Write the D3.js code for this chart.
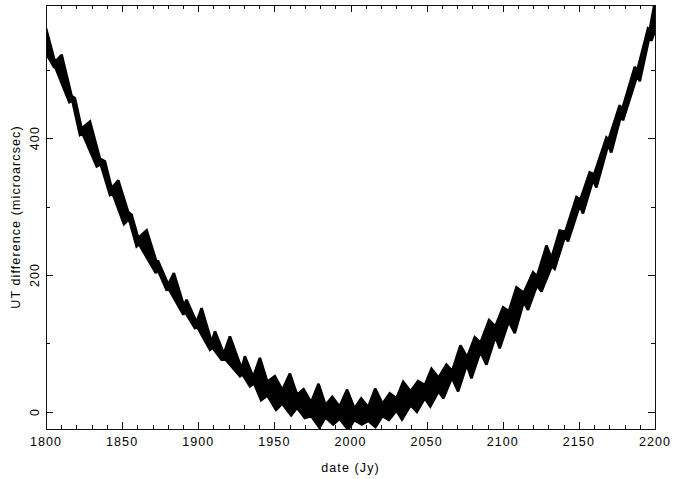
<!DOCTYPE html>
<html>
<head>
<meta charset="utf-8">
<script src="https://cdn.jsdelivr.net/npm/d3@7"></script>
<style>
  body { margin: 0; background: #fff; }
  svg { display: block; font-family: "Liberation Sans", Arial, sans-serif; }
</style>
</head>
<body>
<div id="chart"></div>
<script>
// upper edge of the band (date in Julian years, value in microarcsec)
const upperYears = [1800, 1805.9, 1810.3, 1816.8, 1819.0, 1823.4, 1828.9, 1835.4, 1838.7, 1843.1,
    1847.5, 1854.0, 1856.2, 1860.6, 1866.1, 1872.6, 1873.7, 1880.3, 1884.0, 1890.6,
    1892.3, 1898.9, 1902.2, 1908.8, 1911.0, 1916.8, 1920.8, 1928.5, 1930.6, 1936.1,
    1940.5, 1945.4, 1950.3, 1955.2, 1960.2, 1964.9, 1969.2, 1974.2, 1979.0, 1983.6,
    1988.0, 1992.8, 1997.8, 2002.6, 2007.0, 2011.6, 2016.2, 2021.0, 2025.8, 2030.2,
    2034.6, 2039.5, 2044.4, 2048.8, 2053.2, 2057.8, 2063.0, 2066.8, 2072.2, 2076.6,
    2081.6, 2085.4, 2091.0, 2095.2, 2100.2, 2104.0, 2109.0, 2113.8, 2119.9, 2122.5,
    2128.7, 2132.0, 2137.4, 2141.1, 2148.4, 2151.0, 2157.1, 2160.0, 2168.1, 2169.6,
    2176.8, 2178.3, 2186.7, 2188.4, 2195.4, 2196.5, 2200];
const upperVals = [560.5, 511, 521.6, 462, 458.3, 414, 424.3, 370, 365.9, 327,
    338.2, 292, 288.0, 254, 265.2, 219, 219.9, 186, 202.8, 155,
    163.9, 131, 151.7, 102, 117.7, 85, 110.4, 63, 81.2, 51,
    79, 44, 52, 32, 56, 25, 33, 14, 41, 10,
    22, 8, 32.5, 5, 19.5, 7, 34, 12, 27, 20,
    44, 30, 45, 39, 63, 50, 69, 60, 97, 80,
    109, 101, 134, 125, 153, 147, 182, 174, 204, 198,
    243, 225, 265, 263, 314, 310, 350, 347, 401, 398,
    448, 441, 504, 499, 560, 558, 600];

// lower edge of the band
const lowerYears = [1800, 1805.3, 1806.2, 1815.3, 1817.3, 1822.3, 1823.9, 1833.3, 1835.9, 1842.0,
    1843.6, 1851.2, 1854.5, 1859.5, 1861.1, 1872.2, 1873.1, 1879.2, 1880.8, 1890.2,
    1891.1, 1897.8, 1899.4, 1907.7, 1909.3, 1915.3, 1917.3, 1927.4, 1929.0, 1934.0,
    1936.6, 1941.3, 1945.4, 1951.1, 1955.2, 1961.0, 1964.9, 1970.0, 1974.2, 1979.6,
    1983.6, 1988.6, 1992.8, 1998.4, 2002.6, 2007.4, 2011.6, 2016.4, 2021.0, 2025.2,
    2030.2, 2033.8, 2039.5, 2043.6, 2048.8, 2052.4, 2057.8, 2061.0, 2066.6, 2070.7,
    2076.4, 2079.4, 2085.3, 2089.3, 2095.2, 2098.0, 2103.9, 2107.9, 2113.8, 2116.6,
    2122.5, 2125.4, 2132.2, 2134.1, 2140.9, 2142.9, 2150.6, 2152.7, 2159.3, 2161.5,
    2169.2, 2171.3, 2177.9, 2179.0, 2188.4, 2190.0, 2196.5, 2197.6, 2200];
const lowerVals = [524, 503.6, 503, 452.5, 455, 404.8, 407, 358.6, 362, 317.2,
    320, 274.4, 282, 241.8, 245, 202.8, 209, 178.5, 179, 142.0,
    147, 122.5, 124, 90.9, 94, 76.3, 78, 52.0, 55, 37.4,
    42, 17, 24, 3, 12, -5, 6, -9, -6, -23,
    -8, -18.5, -10, -26, -12, -18.5, -13, -22, -6, -12,
    2, -11, 10, 0, 20, 8, 30, 20, 50, 30,
    69, 49, 88, 69, 110, 93, 132, 115, 161, 149,
    185, 176, 213, 209, 257, 249, 302, 290, 339, 328,
    390, 379, 435, 426, 492, 483, 550, 542, 557];

const xLabelTicks = [1800, 1850, 1900, 1950, 2000, 2050, 2100, 2150, 2200];
const yLabelTicks = [0, 200, 400];
const yMinorTicks = [100, 300, 500];

const width = 673, height = 479;
const margin = { top: 5, right: 18, bottom: 50, left: 46 };
const x0 = margin.left, x1 = width - margin.right;
const y0 = height - margin.bottom, y1 = margin.top;

const svg = d3.select('#chart').append('svg')
    .attr('width', width)
    .attr('height', height);

const x = d3.scaleLinear().domain([1800, 2200]).range([x0, x1]);
const y = d3.scaleLinear().domain([-25, 594.5]).range([y0, y1]);

svg.append('clipPath').attr('id', 'plot-clip')
    .append('rect')
    .attr('x', x0).attr('y', y1)
    .attr('width', x1 - x0).attr('height', y0 - y1);

// band outline: along the upper edge, back along the lower edge
const upper = upperYears.map((t, i) => ({ t, v: upperVals[i] }));
const lower = lowerYears.map((t, i) => ({ t, v: lowerVals[i] }));
const outline = upper.concat(lower.slice().reverse());

const line = d3.line()
    .x(d => x(d.t))
    .y(d => y(d.v));

// the dense short-period wiggle makes the band look heavier than its envelope
svg.append('path')
    .attr('clip-path', 'url(#plot-clip)')
    .attr('d', line(outline) + 'Z')
    .attr('fill', '#000')
    .attr('stroke', '#000')
    .attr('stroke-width', 2.6)
    .attr('stroke-linejoin', 'miter')
    .attr('stroke-miterlimit', 2);

// ticks on all four sides, pointing inward
const xMinorTicks = d3.range(1810, 2200, 10).filter(v => v % 50 !== 0);
const major = 7, minor = 4;

function tickAxis(axisFn, scale, vals, size, tx, ty) {
    svg.append('g')
        .attr('transform', `translate(${tx},${ty})`)
        .call(axisFn(scale).tickValues(vals).tickSize(-size).tickFormat(''))
        .call(g => g.select('.domain').remove())
        .call(g => g.selectAll('line').attr('stroke', '#111').attr('shape-rendering', 'crispEdges'));
}

tickAxis(d3.axisBottom, x, xLabelTicks, major, 0, y0);
tickAxis(d3.axisBottom, x, xMinorTicks, minor, 0, y0);
tickAxis(d3.axisTop, x, xLabelTicks, major, 0, y1);
tickAxis(d3.axisTop, x, xMinorTicks, minor, 0, y1);
tickAxis(d3.axisLeft, y, yLabelTicks, major, x0, 0);
tickAxis(d3.axisLeft, y, yMinorTicks, minor, x0, 0);
tickAxis(d3.axisRight, y, yLabelTicks, major, x1, 0);
tickAxis(d3.axisRight, y, yMinorTicks, minor, x1, 0);

svg.append('rect')
    .attr('x', x0 + 0.5).attr('y', y1 + 0.5)
    .attr('width', x1 - x0).attr('height', y0 - y1)
    .attr('fill', 'none')
    .attr('stroke', '#111')
    .attr('shape-rendering', 'crispEdges');

// tick labels
const fontSize = '12.5px', spacing = '1.1px';

svg.selectAll('text.xlab')
    .data(xLabelTicks)
    .join('text')
    .attr('class', 'xlab')
    .attr('x', d => x(d))
    .attr('y', 446)
    .attr('text-anchor', 'middle')
    .attr('font-size', fontSize)
    .attr('letter-spacing', spacing)
    .text(d => d);

svg.selectAll('text.ylab')
    .data(yLabelTicks)
    .join('text')
    .attr('class', 'ylab')
    .attr('transform', d => `translate(39,${y(d)}) rotate(-90)`)
    .attr('text-anchor', 'middle')
    .attr('font-size', fontSize)
    .attr('letter-spacing', spacing)
    .text(d => d);

// axis titles
svg.append('text')
    .attr('x', (x0 + x1) / 2)
    .attr('y', 472)
    .attr('text-anchor', 'middle')
    .attr('font-size', fontSize)
    .attr('letter-spacing', spacing)
    .text('date (Jy)');

svg.append('text')
    .attr('transform', `translate(20,${(y0 + y1) / 2}) rotate(-90)`)
    .attr('text-anchor', 'middle')
    .attr('font-size', fontSize)
    .attr('letter-spacing', spacing)
    .text('UT difference (microarcsec)');
</script>
</body>
</html>
